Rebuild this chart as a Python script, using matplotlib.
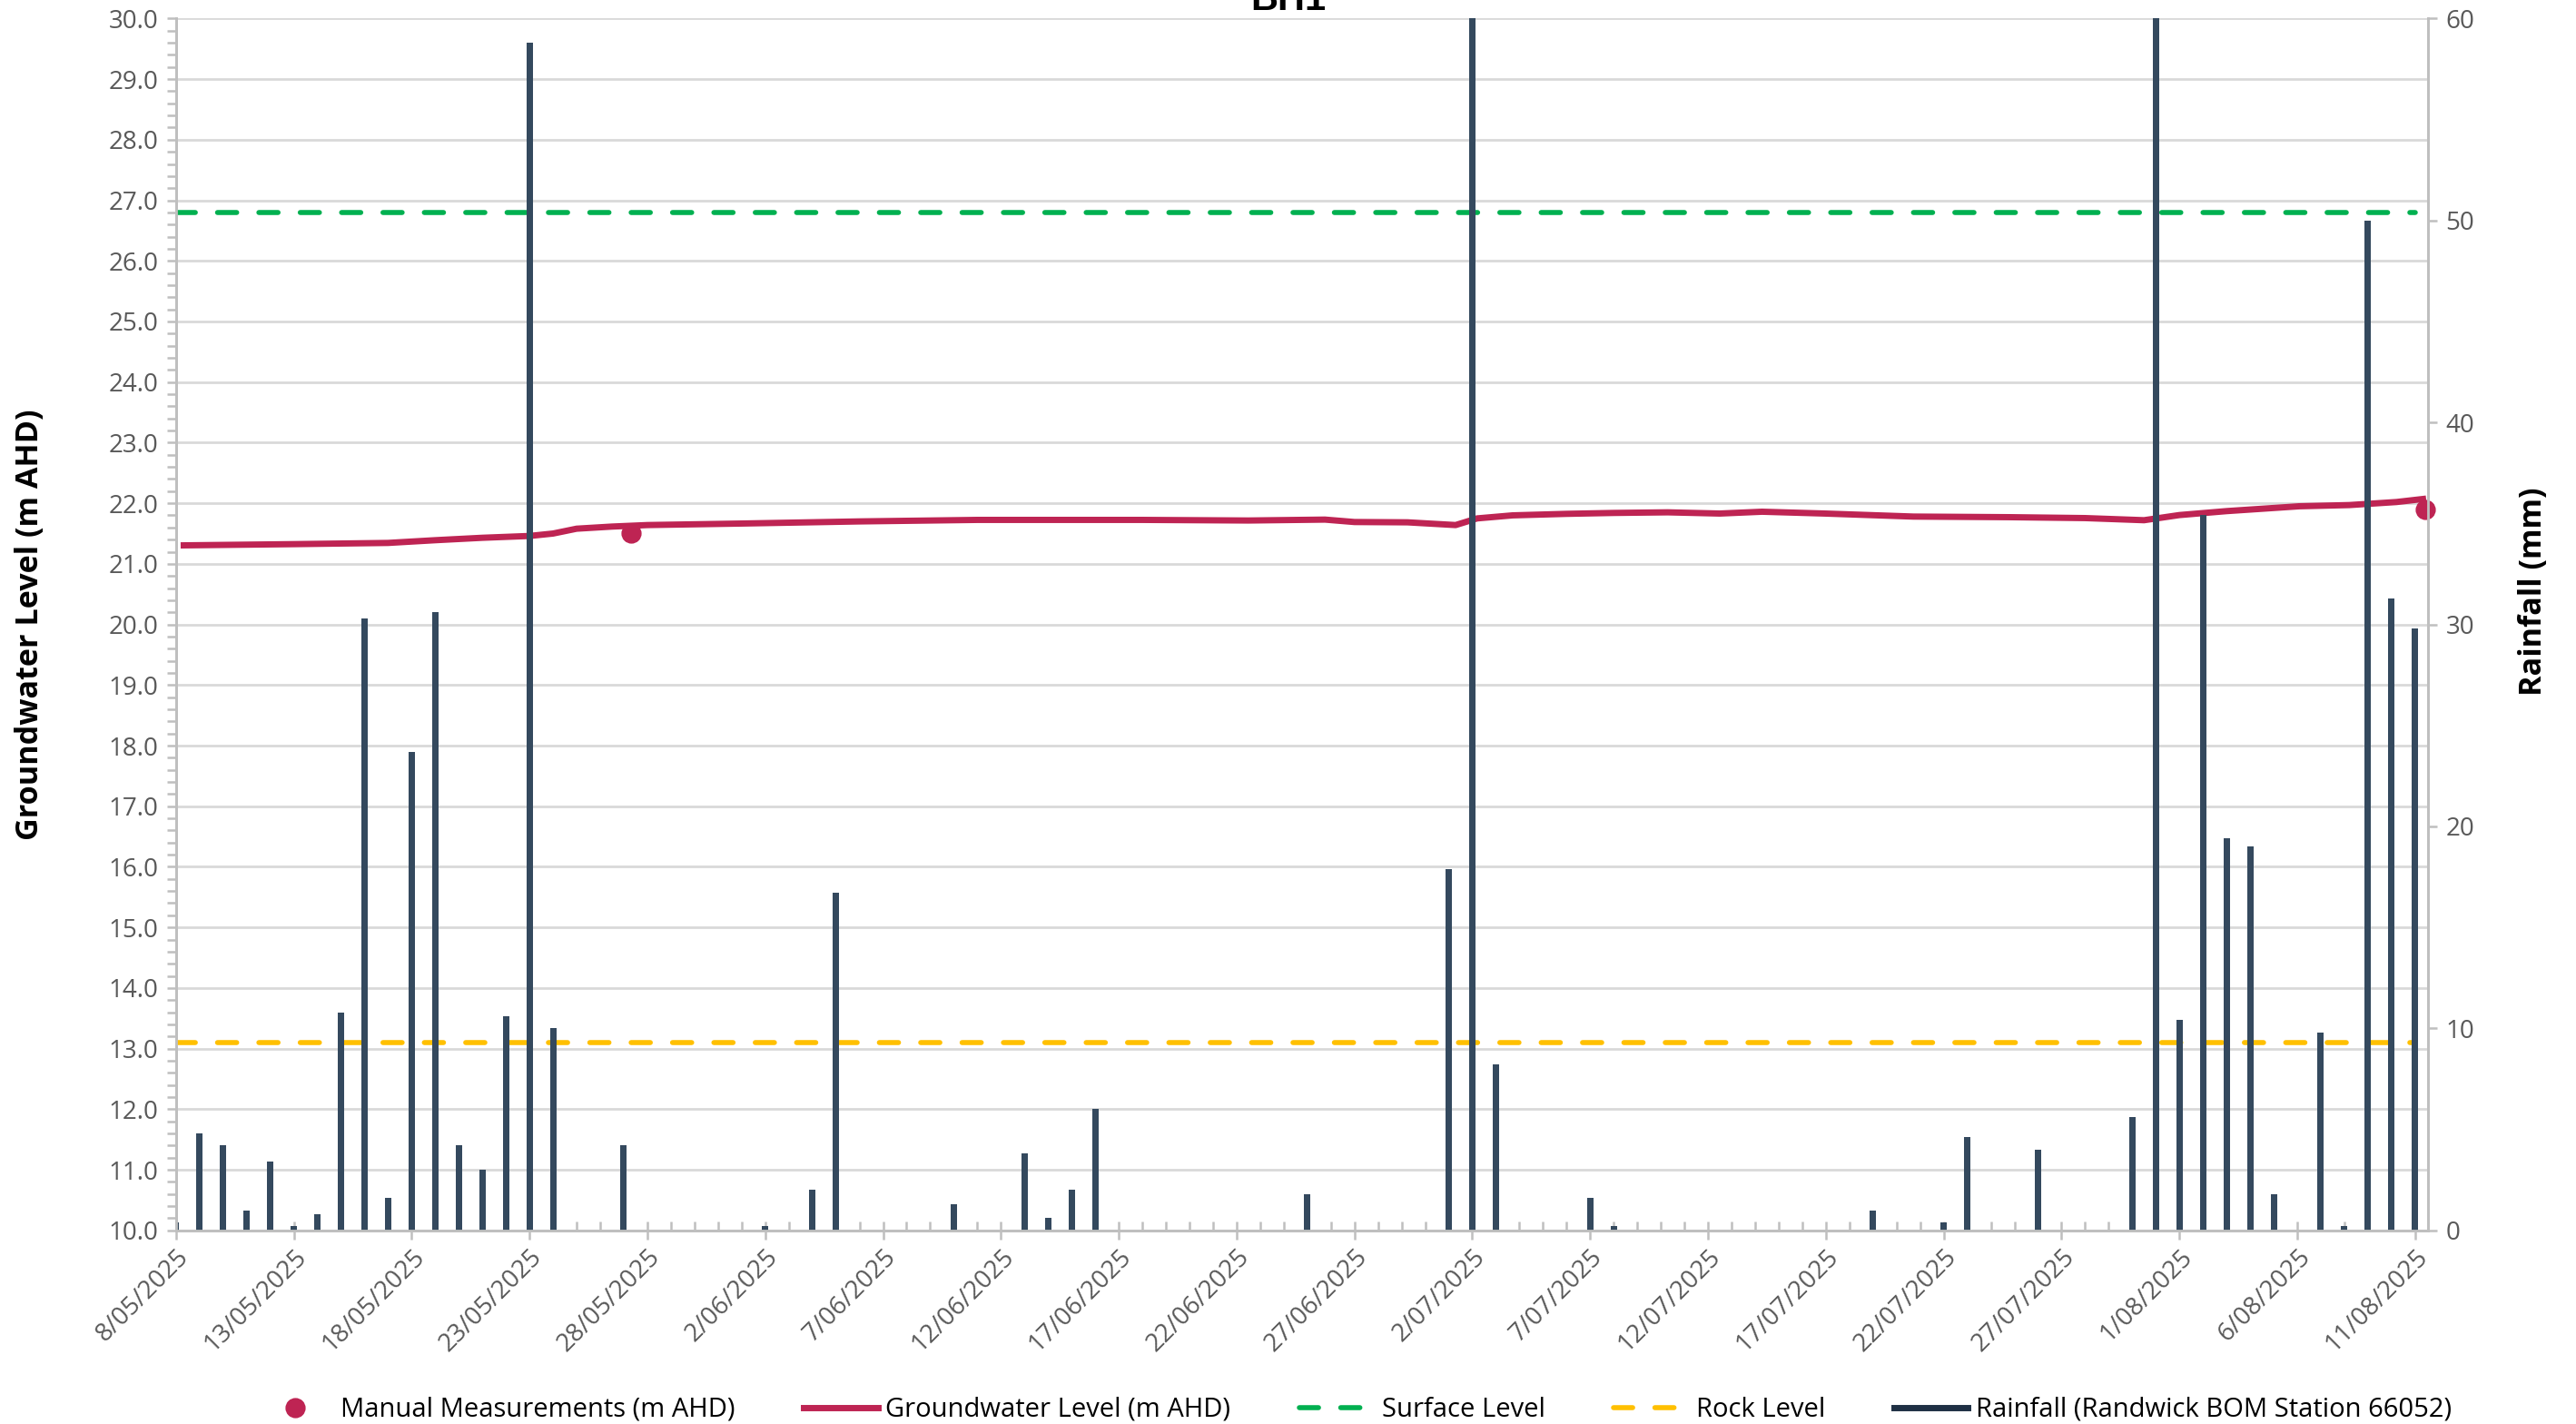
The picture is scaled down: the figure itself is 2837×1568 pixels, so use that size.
import matplotlib
matplotlib.use("Agg")
import matplotlib.pyplot as plt
import matplotlib.dates as mdates
from matplotlib.lines import Line2D
from matplotlib.ticker import MultipleLocator
import pandas as pd

# daily rainfall (mm), 8/05/2025 -> 11/08/2025
rain_start = "2025-05-08"
rainfall = [0.4, 4.8, 4.2, 1.0, 3.4, 0.2, 0.8, 10.8, 30.3, 1.6,
            23.7, 30.6, 4.2, 3.0, 10.6, 58.8, 10.0, 0, 0, 4.2,
            0, 0, 0, 0, 0, 0.2, 0, 2.0, 16.7, 0,
            0, 0, 0, 1.3, 0, 0, 3.8, 0.6, 2.0, 6.0,
            0, 0, 0, 0, 0, 0, 0, 0, 1.8, 0,
            0, 0, 0, 0, 17.9, 62.0, 8.2, 0, 0, 0,
            1.6, 0.2, 0, 0, 0, 0, 0, 0, 0, 0,
            0, 0, 1.0, 0, 0, 0.4, 4.6, 0, 0, 4.0,
            0, 0, 0, 5.6, 61.0, 10.4, 35.4, 19.4, 19.0, 1.8,
            0, 9.8, 0.2, 50.0, 31.3, 29.8]

gw_times = ["2025-05-08 08:00", "2025-05-13 00:00", "2025-05-17 00:00", "2025-05-19 00:00",
            "2025-05-21 00:00", "2025-05-23 00:00", "2025-05-24 00:00", "2025-05-25 00:00",
            "2025-05-26 12:00", "2025-05-28 00:00", "2025-06-01 00:00", "2025-06-06 00:00",
            "2025-06-11 00:00", "2025-06-15 00:00", "2025-06-18 00:00", "2025-06-22 12:00",
            "2025-06-25 18:00", "2025-06-27 00:00", "2025-06-29 06:00", "2025-07-01 07:00",
            "2025-07-02 05:00", "2025-07-03 17:00", "2025-07-06 00:00", "2025-07-08 00:00",
            "2025-07-10 07:00", "2025-07-12 12:00", "2025-07-14 07:00", "2025-07-16 23:00",
            "2025-07-20 17:00", "2025-07-24 19:00", "2025-07-28 00:00", "2025-07-30 12:00",
            "2025-08-01 00:00", "2025-08-03 00:00", "2025-08-06 02:00", "2025-08-08 05:00",
            "2025-08-10 05:00", "2025-08-11 08:00"]
gw_level = [21.305, 21.325, 21.345, 21.39, 21.43, 21.46, 21.50, 21.58,
            21.615, 21.64, 21.665, 21.70, 21.725, 21.725, 21.725, 21.715,
            21.73, 21.69, 21.685, 21.64, 21.75, 21.80, 21.825, 21.84,
            21.85, 21.83, 21.86, 21.83, 21.78, 21.77, 21.755, 21.72,
            21.805, 21.87, 21.95, 21.97, 22.02, 22.07]

manual_times = ["2025-05-27 07:00", "2025-08-11 10:00"]
manual_level = [21.51, 21.90]

surface_level = 26.8
rock_level = 13.1

rain_dates = pd.date_range(rain_start, periods=len(rainfall), freq="D")
gw_dates = pd.to_datetime(gw_times)
manual_dates = pd.to_datetime(manual_times)
tick_dates = pd.date_range(rain_start, "2025-08-11", freq="5D")

plt.rcParams["font.family"] = ["Open Sans", "DejaVu Sans"]

fig = plt.figure(figsize=(2837 / 200, 1568 / 200), dpi=200)
ax = fig.add_axes([0.0683, 0.136, 0.8742, 0.851])
ax2 = ax.twinx()

grey = "#595959"
axis_col = "#BFBFBF"
dash = (3.8, 4.4)

# ground water and reference levels
ax.plot(gw_dates, gw_level, color="#BE2453", lw=2.5, zorder=3)
ax.plot([rain_dates[0], rain_dates[-1]], [surface_level] * 2, color="#00B050",
        lw=2.0, dashes=dash, dash_capstyle="round", zorder=3)
ax.plot([rain_dates[0], rain_dates[-1]], [rock_level] * 2, color="#FFC000",
        lw=2.0, dashes=dash, dash_capstyle="round", zorder=3)
ax.plot(manual_dates, manual_level, "o", color="#BE2453", ms=7, zorder=4, clip_on=False)

# rainfall bars
ax2.bar(rain_dates, rainfall, width=0.27, color="#34495E", zorder=2)

ax.set_xlim(rain_dates[0], rain_dates[-1] + pd.Timedelta(hours=13))
ax.set_ylim(10, 30)
ax2.set_ylim(0, 60)

ax.yaxis.set_major_locator(MultipleLocator(1))
ax.yaxis.set_minor_locator(MultipleLocator(0.2))
ax.yaxis.set_major_formatter(lambda v, p: f"{v:.1f}")
ax2.yaxis.set_major_locator(MultipleLocator(10))

ax.set_xticks(tick_dates)
ax.set_xticklabels([f"{d.day}/{d.month:02d}/{d.year}" for d in tick_dates],
                   rotation=45, ha="right", rotation_mode="anchor")
ax.xaxis.set_minor_locator(mdates.DayLocator())

ax.grid(axis="y", which="major", color="#D9D9D9", lw=1.0)
ax.set_axisbelow(True)

for a in (ax, ax2):
    for s in a.spines.values():
        s.set_color(axis_col)
        s.set_linewidth(1.0)
    a.spines["top"].set_visible(False)

ax.tick_params(axis="y", which="both", colors=axis_col, labelcolor=grey, labelsize=10,
               length=3.5, width=0.9)
ax2.tick_params(axis="y", colors=axis_col, labelcolor=grey, labelsize=10, length=3.5, width=0.9)
ax.tick_params(axis="x", which="major", direction="inout", length=7, width=0.9,
               colors=axis_col, labelcolor=grey, labelsize=10, pad=2)
ax.tick_params(axis="x", which="minor", direction="in", length=3.5, width=0.9, colors=axis_col)

ax.set_ylabel("Groundwater Level (m AHD)", fontsize=12.3, fontweight="bold")
ax.yaxis.set_label_coords(-0.058, 0.5)
ax2.set_ylabel("Rainfall (mm)", fontsize=12.3, fontweight="bold")
ax2.yaxis.set_label_coords(1.040, 0.527)

fig.text(0.5, 1 - 11 / 1568, "BH1", ha="center", va="baseline", fontsize=15,
         fontweight="bold", family=["Liberation Sans", "DejaVu Sans"])

handles = [
    Line2D([], [], marker="o", ls="none", color="#BE2453", ms=7),
    Line2D([], [], color="#BE2453", lw=2.5),
    Line2D([], [], color="#00B050", lw=2.0, dashes=dash, dash_capstyle="round"),
    Line2D([], [], color="#FFC000", lw=2.0, dashes=dash, dash_capstyle="round"),
    Line2D([], [], color="#1F3044", lw=2.5),
]
labels = ["Manual Measurements (m AHD)", "Groundwater Level (m AHD)", "Surface Level",
          "Rock Level", "Rainfall (Randwick BOM Station 66052)"]
fig.legend(handles, labels, loc="lower center", bbox_to_anchor=(0.526, -0.016), ncol=5,
           frameon=False, fontsize=10.5, columnspacing=2.6, handlelength=2.8,
           handletextpad=0.3)

fig.savefig("out.png", dpi=200)
